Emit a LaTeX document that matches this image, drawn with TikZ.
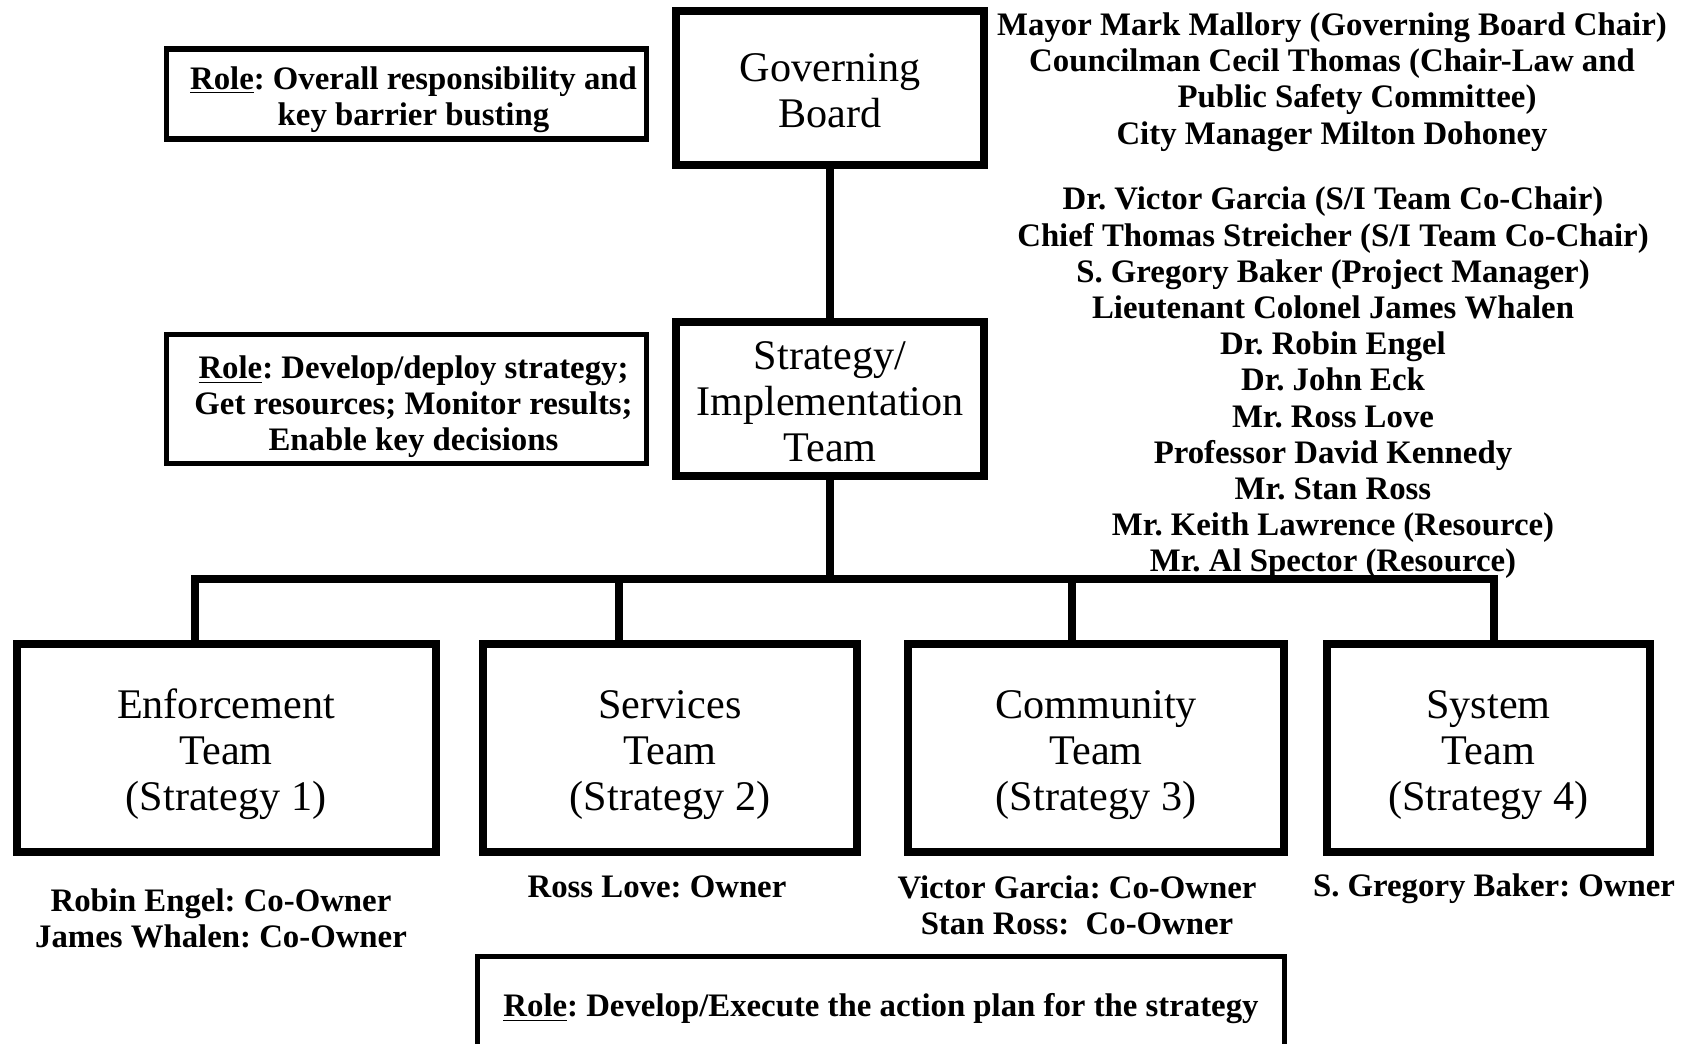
\documentclass[tikz,border=0pt]{standalone}
\usepackage{fontspec}
\setmainfont{Liberation Serif}
\newcommand{\lift}[1]{\rule{0pt}{#1}}
\newcommand{\nudge}{\hspace*{7pt}}

\begin{document}
\frenchspacing
\begin{tikzpicture}[x=0.5pt, y=-0.5pt,
    board/.style={draw, line width=3.75pt, minimum width=154pt, minimum height=77pt, align=center, font=\fontsize{21.1}{23}\selectfont},
    team/.style={draw, line width=4pt, minimum height=104pt, align=center, font=\fontsize{21.1}{23.2}\selectfont},
    role/.style={draw, line width=2.65pt, minimum width=240pt, align=center, font=\fontsize{16.4}{17.8}\selectfont\bfseries},
    names/.style={align=center, font=\fontsize{16.4}{18.1}\selectfont\bfseries},
    link/.style={line width=3.65pt}]

    \useasboundingbox (0,0) rectangle (1692,1044);

    \node[board] (gov) at (830,88) {\lift{17pt}Governing\\Board};
    \node[board] (strat) at (830,399) {\lift{17pt}Strategy/\\Implementation\\Team};

    \node[role, minimum height=45pt] (govrole) at (406.5,94) {\lift{17pt}\nudge\underline{Role}: Overall responsibility and\\\nudge key barrier busting};
    \node[role, minimum height=64.5pt] (stratrole) at (406.5,399) {\lift{19pt}\nudge\underline{Role}: Develop/deploy strategy;\\\nudge Get resources; Monitor results;\\\nudge Enable key decisions};

    \node[names] (govnames) at (1332,82) {Mayor Mark Mallory (Governing Board Chair)\\Councilman Cecil Thomas (Chair-Law and\\\hspace*{25pt}Public Safety Committee)\\City Manager Milton Dohoney};
    \node[names] (stratnames) at (1333,383) {Dr. Victor Garcia (S/I Team Co-Chair)\\Chief Thomas Streicher (S/I Team Co-Chair)\\S. Gregory Baker (Project Manager)\\Lieutenant Colonel James Whalen\\Dr. Robin Engel\\Dr. John Eck\\Mr. Ross Love\\Professor David Kennedy\\Mr. Stan Ross\\Mr. Keith Lawrence (Resource)\\Mr. Al Spector (Resource)};

    \node[team, minimum width=209.5pt] (enf) at (226,748) {\lift{21pt}Enforcement\\Team\\(Strategy 1)};
    \node[team, minimum width=187pt] (serv) at (670,748) {\lift{21pt}Services\\Team\\(Strategy 2)};
    \node[team, minimum width=188pt] (comm) at (1096,748) {\lift{21pt}Community\\Team\\(Strategy 3)};
    \node[team, minimum width=161.5pt] (sys) at (1488.5,748) {\lift{21pt}System\\Team\\(Strategy 4)};

    \node[names] (enfown) at (221,918) {Robin Engel: Co-Owner\\James Whalen: Co-Owner};
    \node[names] (servown) at (657,887) {Ross Love: Owner};
    \node[names] (commown) at (1077,905) {Victor Garcia: Co-Owner\\Stan Ross:\ \ Co-Owner};
    \node[names] (sysown) at (1494,889) {S. Gregory Baker: Owner};

    \node[role, line width=2.5pt, minimum width=403.5pt, minimum height=48.5pt] (teamrole) at (881,1005) {\lift{15.5pt}\underline{Role}: Develop/Execute the action plan for the strategy};

    \coordinate (bus) at (830,579);
    \coordinate (d1) at (195,579);
    \coordinate (d2) at (619,579);
    \coordinate (d3) at (1072,579);
    \coordinate (d4) at (1494,579);

    \path[link]
        (gov) edge (strat)
        (strat) edge (bus)
        (d2) edge (d2 |- serv.north)
        (d3) edge (d3 |- comm.north);
    \draw[link] (enf.north -| d1) -- (d1) -- (d4) -- (d4 |- sys.north);

\end{tikzpicture}
\end{document}
